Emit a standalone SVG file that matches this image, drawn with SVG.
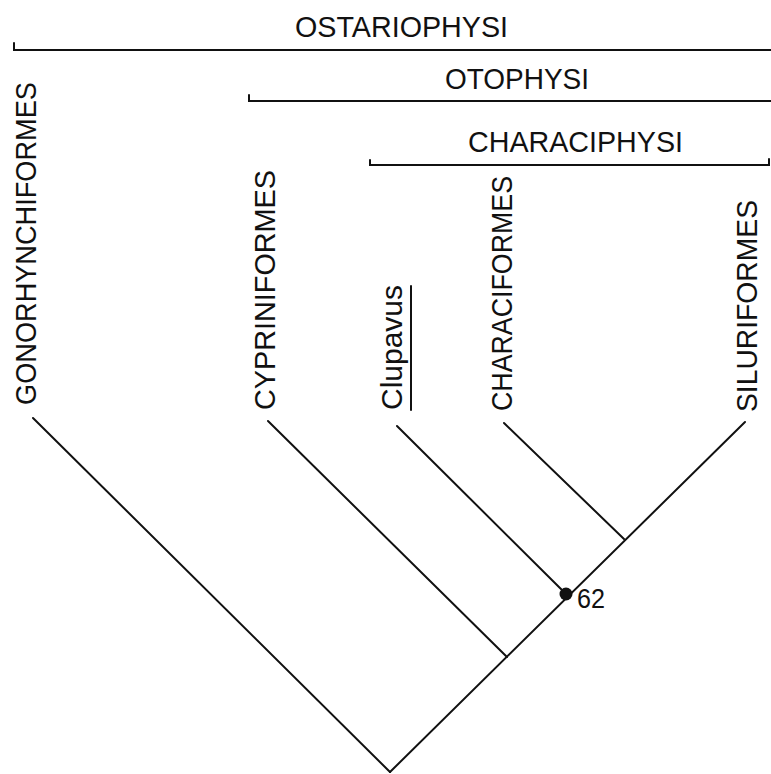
<svg xmlns="http://www.w3.org/2000/svg" width="771" height="774" viewBox="0 0 771 774">
<style>
.ln{stroke:#111;stroke-width:2;fill:none;stroke-linecap:round}
.t{font-family:"Liberation Sans","DejaVu Sans",sans-serif;font-size:30px;fill:#111}
</style>
<rect width="771" height="774" fill="#fff"/>
<g id="groups">
  <g id="ostariophysi">
    <text class="t" x="295" y="37" textLength="213" lengthAdjust="spacingAndGlyphs">OSTARIOPHYSI</text>
    <polyline class="ln" points="14,43 14,50 771,50"/>
  </g>
  <g id="otophysi">
    <text class="t" x="445" y="89" textLength="144" lengthAdjust="spacingAndGlyphs">OTOPHYSI</text>
    <polyline class="ln" points="249,95 249,101 771,101"/>
  </g>
  <g id="characiphysi">
    <text class="t" x="468" y="152" textLength="215" lengthAdjust="spacingAndGlyphs">CHARACIPHYSI</text>
    <polyline class="ln" points="370,160 370,165 769,165 769,159"/>
  </g>
</g>
<g id="connectors">
  <line class="ln" x1="390" y1="772" x2="33" y2="418"/>
  <line class="ln" x1="390" y1="772" x2="745" y2="422"/>
  <line class="ln" x1="507" y1="657" x2="268" y2="421"/>
  <line class="ln" x1="566" y1="594" x2="397" y2="426"/>
  <line class="ln" x1="624" y1="539" x2="504" y2="423"/>
</g>
<g id="gonorhynchiformes">
  <text class="t" x="36" y="405" transform="rotate(-90 36 405)" textLength="323" lengthAdjust="spacingAndGlyphs">GONORHYNCHIFORMES</text>
</g>
<g id="cypriniformes">
  <text class="t" x="275" y="410" transform="rotate(-90 275 410)" textLength="240" lengthAdjust="spacingAndGlyphs">CYPRINIFORMES</text>
</g>
<g id="clupavus">
  <text class="t" x="402" y="410" transform="rotate(-90 402 410)" textLength="125" lengthAdjust="spacingAndGlyphs">Clupavus</text>
  <line class="ln" x1="411" y1="286" x2="411" y2="410"/>
</g>
<g id="characiformes">
  <text class="t" x="512" y="411" transform="rotate(-90 512 411)" textLength="235" lengthAdjust="spacingAndGlyphs">CHARACIFORMES</text>
</g>
<g id="siluriformes">
  <text class="t" x="757" y="412" transform="rotate(-90 757 412)" textLength="212" lengthAdjust="spacingAndGlyphs">SILURIFORMES</text>
</g>
<g id="node62">
  <circle cx="566" cy="594" r="6.5" fill="#111"/>
  <text class="t" x="577" y="608" style="font-size:27px" textLength="28" lengthAdjust="spacingAndGlyphs">62</text>
</g>
</svg>
